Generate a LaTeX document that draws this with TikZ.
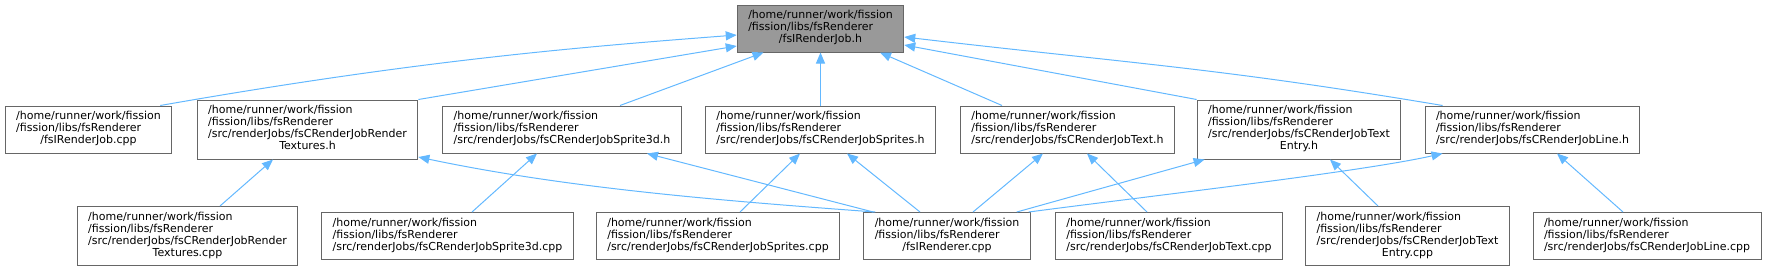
\documentclass[tikz,border=0pt]{standalone}
\usepackage{fontspec}
\setmainfont{DejaVu Sans}
\usepackage{tikz}
\usetikzlibrary{arrows.meta}
\definecolor{edgeblue}{HTML}{63B8FF}
\definecolor{boxline}{HTML}{666666}
\definecolor{rootfill}{HTML}{999999}
\tikzset{
  dep/.style={x=1pt, y=-1pt, >={Triangle[length=11pt,width=9pt]}, every node/.style={file}},
  file/.style={draw=boxline, fill=white, line width=1pt, inner xsep=11pt, inner ysep=5.5pt, font=\fontsize{11}{12}\selectfont},
  cur/.style={fill=rootfill},
  inc/.style={->, edgeblue, line width=1pt}
}
\newcommand{\fsdir}{/home/runner/work/fission\\/fission/libs/fsRenderer}
\newcommand{\flines}[2]{\begin{tabular}{@{}l@{}}#1\\\multicolumn{1}{@{}c@{}}{#2}\end{tabular}}

\begin{document}
\begin{tikzpicture}[dep]
\useasboundingbox (0,0) rectangle (1767,271);
\node[cur] (root) at (820.5,28.5) {\flines{\fsdir}{/fsIRenderJob.h}};
\node (jobcpp) at (88.5,129.5) {\flines{\fsdir}{/fsIRenderJob.cpp}};
\node (texh) at (307.5,129.5) {\flines{\fsdir\\/src/renderJobs/fsCRenderJobRender}{Textures.h}};
\node (s3dh) at (562,129.5) {\flines{\fsdir}{/src/renderJobs/fsCRenderJobSprite3d.h}};
\node (sprh) at (820.5,129.5) {\flines{\fsdir}{/src/renderJobs/fsCRenderJobSprites.h}};
\node (txth) at (1067.5,129.5) {\flines{\fsdir}{/src/renderJobs/fsCRenderJobText.h}};
\node (enth) at (1299,129.5) {\flines{\fsdir\\/src/renderJobs/fsCRenderJobText}{Entry.h}};
\node (lnh) at (1532.5,129.5) {\flines{\fsdir}{/src/renderJobs/fsCRenderJobLine.h}};
\node (texcpp) at (187.5,236) {\flines{\fsdir\\/src/renderJobs/fsCRenderJobRender}{Textures.cpp}};
\node (s3dcpp) at (447.5,236) {\flines{\fsdir}{/src/renderJobs/fsCRenderJobSprite3d.cpp}};
\node (sprcpp) at (718,236) {\flines{\fsdir}{/src/renderJobs/fsCRenderJobSprites.cpp}};
\node (rcpp) at (947,236) {\flines{\fsdir}{/fsIRenderer.cpp}};
\node (txtcpp) at (1169,236) {\flines{\fsdir}{/src/renderJobs/fsCRenderJobText.cpp}};
\node (entcpp) at (1407.5,236) {\flines{\fsdir\\/src/renderJobs/fsCRenderJobText}{Entry.cpp}};
\node (lncpp) at (1647,236) {\flines{\fsdir}{/src/renderJobs/fsCRenderJobLine.cpp}};
\draw[inc] ([xshift=-12pt]jobcpp.north east) .. controls (420,60) and (580,47) .. ([yshift=-6.5pt]root.west);
\draw[inc] (texh.north east) -- ([yshift=-17.5pt]root.west);
\draw[inc] ([xshift=58pt]s3dh.north) -- ([xshift=-57pt]root.south);
\draw[inc] (sprh) -- (root);
\draw[inc] ([xshift=-65.5pt]txth.north) -- ([xshift=59.5pt]root.south);
\draw[inc] (enth.north west) -- ([yshift=-16.5pt]root.east);
\draw[inc] ([xshift=18pt]lnh.north west) .. controls (1217,67.6) and (1130,63.4) .. ([yshift=-8.5pt]root.east);
\draw[inc] ([xshift=32.5pt]texcpp.north) -- ([xshift=-34.5pt]texh.south);
\draw[inc] ([xshift=12pt]rcpp.north west) .. controls (725,201) and (568,188.5) .. ([yshift=-27.5pt]texh.east);
\draw[inc] ([xshift=24.5pt]s3dcpp.north) -- ([xshift=-25pt]s3dh.south);
\draw[inc] ([xshift=10pt]rcpp.north west) -- ([xshift=85pt]s3dh.south);
\draw[inc] ([xshift=22pt]sprcpp.north) -- ([xshift=-20.5pt]sprh.south);
\draw[inc] ([xshift=-27pt]rcpp.north) -- ([xshift=26.5pt]sprh.south);
\draw[inc] ([xshift=26pt]rcpp.north) -- ([xshift=-24.5pt]txth.south);
\draw[inc] ([xshift=-22pt]txtcpp.north) -- ([xshift=19.5pt]txth.south);
\draw[inc] ([xshift=-14pt]rcpp.north east) -- ([xshift=8pt]enth.south west);
\draw[inc] ([xshift=-2pt]rcpp.north east) .. controls (1150,196) and (1360,172) .. ([xshift=18pt]lnh.south west);
\draw[inc] ([xshift=-29.5pt]entcpp.north) -- ([xshift=31pt]enth.south);
\draw[inc] ([xshift=-24pt]lncpp.north) -- ([xshift=24.5pt]lnh.south);
\end{tikzpicture}
\end{document}
